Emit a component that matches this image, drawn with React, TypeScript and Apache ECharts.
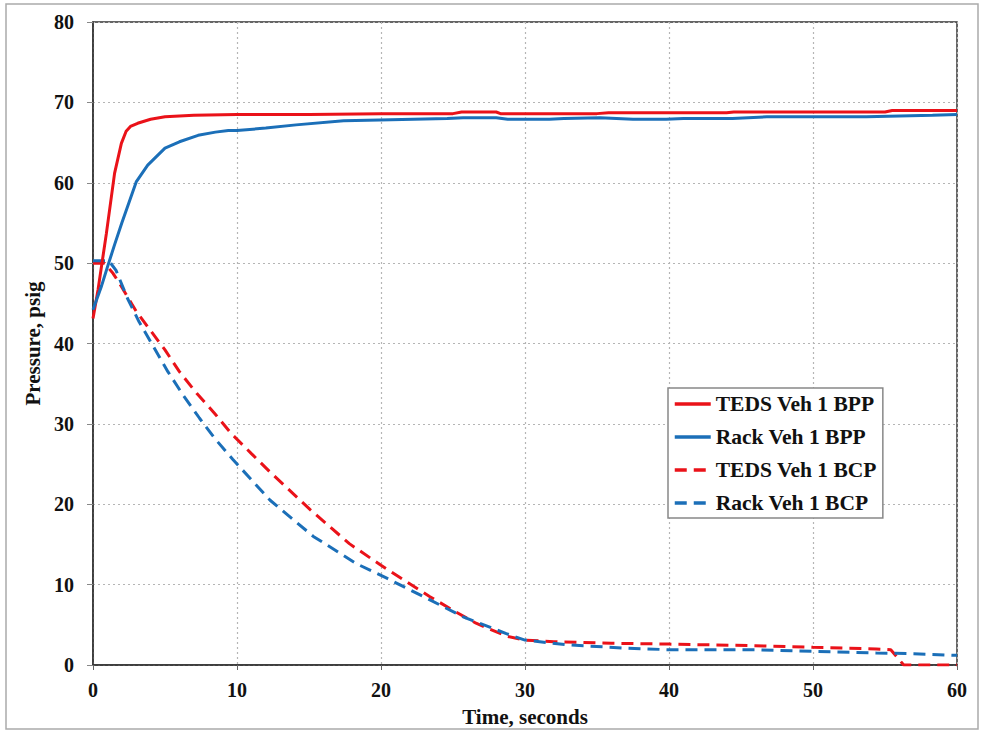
import React, { useEffect, useRef } from "react";
import * as echarts from "echarts";

const xTicks = [0, 10, 20, 30, 40, 50, 60];
const yTicks = [0, 10, 20, 30, 40, 50, 60, 70, 80];

const seriesNames = ["TEDS Veh 1 BPP", "Rack Veh 1 BPP", "TEDS Veh 1 BCP", "Rack Veh 1 BCP"];

const tedsBppT = [0, 0.35, 0.93, 1.5, 1.97, 2.3, 2.6, 3.1, 4, 5, 7, 10, 15, 20, 25, 25.6, 28, 28.3, 35, 35.8, 44, 44.5, 55, 55.5, 60];
const tedsBppV = [43.1, 46.7, 53.7, 61.2, 64.9, 66.4, 67.0, 67.4, 67.9, 68.2, 68.4, 68.5, 68.5, 68.6, 68.6, 68.8, 68.8, 68.6, 68.6, 68.7, 68.7, 68.8, 68.8, 69.0, 69.0];

const rackBppT = [0, 0.6, 1, 1.5, 2, 3, 3.8, 5, 6, 7.3, 8.5, 9.4, 10, 12, 14.1, 17.4, 19.9, 24.6, 25.7, 28, 28.8, 31.7, 32.7, 35.2, 37.5, 39.8, 41, 44.4, 46.8, 53.7, 58.3, 60];
const rackBppV = [44.2, 47.2, 49.5, 52.3, 55.0, 60.1, 62.2, 64.3, 65.1, 65.9, 66.3, 66.5, 66.5, 66.8, 67.2, 67.7, 67.8, 68.0, 68.1, 68.1, 67.9, 67.9, 68.0, 68.1, 67.9, 67.9, 68.0, 68.0, 68.2, 68.2, 68.4, 68.5];

const tedsBcpT = [0, 0.8, 1.4, 1.9, 3, 4, 5, 6, 7.2, 8.45, 9.6, 11, 12.3, 15.1, 17.8, 20, 23.4, 25.2, 26.6, 28.7, 30, 32, 36, 40, 46, 50, 54.4, 55.4, 56.3, 60];
const tedsBcpV = [50.0, 50.0, 48.7, 47.3, 44.0, 41.6, 39.2, 36.5, 33.8, 31.3, 28.8, 26.3, 24.0, 19.3, 15.1, 12.4, 8.5, 6.6, 5.2, 3.6, 3.1, 2.9, 2.7, 2.6, 2.4, 2.2, 2.0, 1.9, 0, 0];

const rackBcpT = [0, 1.1, 1.6, 2.4, 3.2, 4.2, 5.2, 6.25, 7.4, 8.45, 9.7, 12.3, 15.3, 18.3, 20.4, 23.4, 25.7, 28.7, 30, 33, 37, 40, 46, 50, 54.4, 57, 60];
const rackBcpV = [50.3, 50.3, 49.1, 45.6, 42.7, 39.6, 36.5, 33.6, 30.7, 28.2, 25.6, 20.5, 16.0, 12.6, 10.8, 8.1, 6.0, 3.9, 3.1, 2.5, 2.1, 1.9, 1.9, 1.7, 1.5, 1.4, 1.2];

const RED = "#ea1219";
const BLUE = "#1b6fb8";
const FONT = "Liberation Serif";

const zip = (t: number[], v: number[]) => t.map((x, i) => [x, v[i]]);

export default function App() {
  const ref = useRef<HTMLDivElement>(null);
  useEffect(() => {
    if (!ref.current) return;
    const chart = echarts.init(ref.current, null, { renderer: "svg" });
    const mk = (name: string, t: number[], v: number[], color: string, dashed: boolean) => ({
      name,
      type: "line",
      data: zip(t, v),
      symbol: "none",
      showSymbol: false,
      lineStyle: { color, width: 3, type: dashed ? [12, 7] : "solid" },
      itemStyle: { color },
      z: dashed ? 3 : 4,
    });
    chart.setOption({
      animation: false,
      backgroundColor: "#fff",
      graphic: [
        {
          type: "rect",
          shape: { x: 6, y: 4, width: 972, height: 725 },
          style: { fill: "none", stroke: "#aaa", lineWidth: 1.5 },
          z: -1,
        },
      ],
      grid: {
        left: 93,
        right: 24,
        top: 22,
        bottom: 67,
        show: true,
        borderColor: "#333",
        borderWidth: 1.5,
        backgroundColor: "transparent",
      },
      legend: {
        orient: "vertical",
        left: 668,
        top: 388,
        backgroundColor: "#fff",
        borderColor: "#888",
        borderWidth: 1.5,
        borderRadius: 0,
        padding: [5, 6, 4, 5],
        itemGap: 11,
        itemWidth: 36,
        itemHeight: 8,
        itemStyle: { opacity: 0 },
        lineStyle: { width: 3.5 },
        textStyle: { fontFamily: FONT, fontWeight: "bold", fontSize: 21.5, color: "#111", lineHeight: 21 },
        data: seriesNames,
      },
      xAxis: {
        type: "value",
        min: xTicks[0],
        max: xTicks[xTicks.length - 1],
        interval: 10,
        name: "Time, seconds",
        nameLocation: "middle",
        nameGap: 41,
        nameTextStyle: { fontFamily: FONT, fontWeight: "bold", fontSize: 21, color: "#111" },
        axisLine: { show: true, lineStyle: { color: "#333", width: 1.5 } },
        axisTick: { show: true, inside: false, length: 5, lineStyle: { color: "#666" } },
        axisLabel: { fontFamily: FONT, fontWeight: "bold", fontSize: 20, color: "#111", margin: 15 },
        splitLine: { show: true, lineStyle: { color: "#b5b5b5", type: [2, 3], width: 1.2 } },
      },
      yAxis: {
        type: "value",
        min: yTicks[0],
        max: yTicks[yTicks.length - 1],
        interval: 10,
        name: "Pressure, psig",
        nameLocation: "middle",
        nameGap: 42,
        nameTextStyle: { fontFamily: FONT, fontWeight: "bold", fontSize: 21, color: "#111" },
        axisLine: { show: true, lineStyle: { color: "#333", width: 1.5 } },
        axisTick: { show: true, inside: false, length: 6, lineStyle: { color: "#888" } },
        axisLabel: { fontFamily: FONT, fontWeight: "bold", fontSize: 20, color: "#111", margin: 19 },
        splitLine: { show: true, lineStyle: { color: "#b5b5b5", type: [2, 3], width: 1.2 } },
      },
      series: [
        mk(seriesNames[0], tedsBppT, tedsBppV, RED, false),
        mk(seriesNames[1], rackBppT, rackBppV, BLUE, false),
        mk(seriesNames[2], tedsBcpT, tedsBcpV, RED, true),
        mk(seriesNames[3], rackBcpT, rackBcpV, BLUE, true),
      ],
    });
    return () => chart.dispose();
  }, []);
  return <div ref={ref} style={{ position: "fixed", left: 0, top: 0, width: 981, height: 732 }} />;
}
